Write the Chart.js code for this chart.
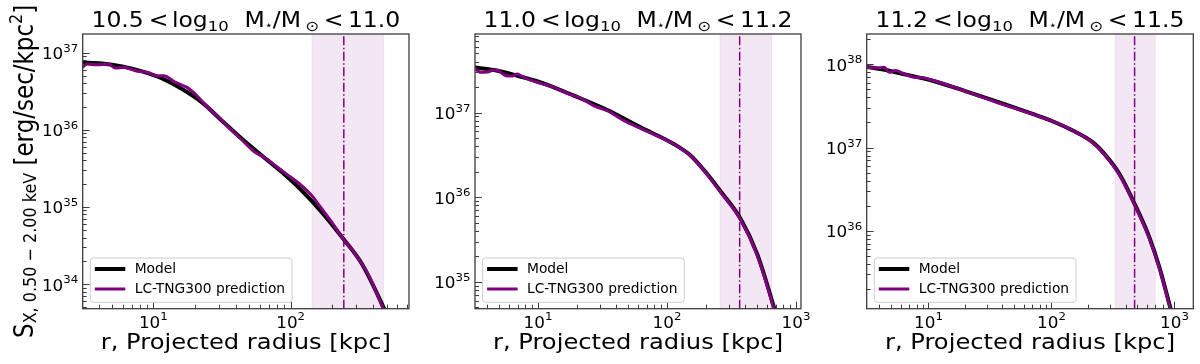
<!DOCTYPE html>
<html>
<head>
<meta charset="utf-8">
<script src="https://cdn.jsdelivr.net/npm/chart.js@4.4.0/dist/chart.umd.min.js"></script>
<style>
html,body{margin:0;padding:0;background:#fff;}
#wrap{position:relative;width:1200px;height:364px;overflow:hidden;}
#wrap canvas{position:absolute;left:0;top:0;}
</style>
</head>
<body>
<div id="wrap">
<canvas id="c0" width="1200" height="364"></canvas>
<canvas id="c1" width="1200" height="364"></canvas>
<canvas id="c2" width="1200" height="364"></canvas>
</div>
<script>
// ---------------- DATA ----------------
const titleLow  = ['10.5', '11.0', '11.2'];
const titleHigh = ['11.0', '11.2', '11.5'];
const legendLabels = ['Model', 'LC-TNG300 prediction'];
const xAxisLabel = 'r, Projected radius [kpc]';

// Panel 1 : 10.5 < log M < 11.0
const rModel1 = [3.03, 4.23, 5.92, 8.27, 11.57, 16.2, 22.6, 31.6, 44.3, 61.9, 86.6, 121, 169, 237, 331, 463, 550];
const sModel1 = [7.46e36, 7.24e36, 6.62e36, 5.70e36, 4.62e36, 3.37e36, 2.26e36, 1.31e36, 7.59e35, 4.61e35, 2.81e35, 1.62e35, 8.51e34, 4.04e34, 1.82e34, 5.52e33, 2.82e33];
const rPred1 = [3.03, 3.29, 3.89, 4.73, 5.29, 6.09, 7.40, 9.25, 10.6, 11.9, 14.5, 17.6, 20.8, 24.6, 29.9, 36.4, 44.3, 53.8, 63.7, 77.4, 96.8, 121, 143, 169, 200, 237, 296, 371, 476, 520];
const sPred1 = [6.43e36, 7.10e36, 6.95e36, 7.10e36, 6.30e36, 6.43e36, 5.82e36, 5.48e36, 4.97e36, 5.01e36, 4.11e36, 3.54e36, 2.76e36, 1.99e36, 1.45e36, 1.02e36, 7.36e35, 5.25e35, 4.39e35, 3.42e35, 2.54e35, 1.88e35, 1.40e35, 9.40e34, 6.31e34, 4.04e34, 2.45e34, 1.29e34, 4.62e33, 3.16e33];
const band1 = [143, 476];
const rCut1 = 244;
const xRange1 = [3.06, 728];
const yRange1 = [4.80e33, 1.74e37];
const xTickExp1 = ['1', '2'];
const yTickExp1 = ['34', '35', '36', '37'];

// Panel 2 : 11.0 < log M < 11.2
const rModel2 = [3.19, 4.56, 6.92, 10.5, 19.0, 34.5, 62.5, 113, 153, 205, 261, 373, 501, 675, 807];
const sModel2 = [3.41e37, 3.18e37, 2.72e37, 2.27e37, 1.58e37, 1.07e37, 6.68e36, 4.25e36, 3.09e36, 1.88e36, 1.17e36, 5.53e35, 2.13e35, 5.01e34, 1.9e34];
const rPred2 = [3.19, 3.59, 4.05, 4.56, 4.99, 5.61, 6.32, 6.92, 7.34, 8.27, 10.5, 13.3, 16.9, 21.4, 27.2, 34.5, 46.4, 62.5, 89.3, 113, 153, 205, 261, 373, 501, 675, 807];
const sPred2 = [3.41e37, 2.98e37, 3.01e37, 3.18e37, 3.12e37, 2.72e37, 2.70e37, 2.85e37, 2.72e37, 2.49e37, 2.21e37, 1.98e37, 1.68e37, 1.48e37, 1.20e37, 1.05e37, 8.01e36, 6.50e36, 5.09e36, 4.25e36, 3.07e36, 1.85e36, 1.14e36, 5.40e35, 2.06e35, 4.8e34, 1.8e34];
const band2 = [258, 649];
const rCut2 = 366;
const xRange2 = [3.25, 1094];
const yRange2 = [4.83e34, 8.45e37];
const xTickExp2 = ['1', '2', '3'];
const yTickExp2 = ['35', '36', '37'];

// Panel 3 : 11.2 < log M < 11.5
const rModel3 = [3.10, 4.51, 6.56, 10.8, 20.2, 37.7, 70.3, 102, 149, 216, 277, 356, 481, 624, 753, 908, 1028];
const sModel3 = [9.37e37, 8.55e37, 7.52e37, 6.35e37, 4.73e37, 3.49e37, 2.53e37, 2.07e37, 1.60e37, 1.16e37, 8.00e36, 4.84e36, 2.01e36, 8.37e35, 3.66e35, 1.32e35, 6.6e34];
const rPred3 = [3.10, 3.30, 3.74, 4.37, 4.81, 5.44, 6.17, 7.67, 8.69, 10.8, 13.0, 20.2, 37.7, 70.3, 102, 149, 216, 277, 356, 481, 624, 753, 908, 1028];
const sPred3 = [9.63e37, 9.20e37, 9.03e37, 9.20e37, 8.01e37, 8.39e37, 7.80e37, 6.98e37, 6.92e37, 6.43e37, 5.92e37, 4.73e37, 3.40e37, 2.53e37, 2.07e37, 1.60e37, 1.15e37, 7.85e36, 4.72e36, 1.96e36, 8.15e35, 3.57e35, 1.28e35, 6.3e34];
const band3 = [330, 698];
const rCut3 = 474;
const xRange3 = [3.15, 1422];
const yRange3 = [1.16e35, 2.31e38];
const xTickExp3 = ['1', '2', '3'];
const yTickExp3 = ['36', '37', '38'];

// ---------------- LAYOUT / STYLE ----------------
const FONT = '"DejaVu Sans", "Liberation Sans", sans-serif';
const PURPLE = '#800080';
const AXIS_COLOR = '#3c3c3c';
const areas = [
  {left: 82.7, right: 409, top: 34, bottom: 308.7},
  {left: 475, right: 801, top: 34, bottom: 308.7},
  {left: 866.7, right: 1193.3, top: 34, bottom: 308.7}
];

function toPoints(xs, ys) { return xs.map((x, i) => ({x: x, y: ys[i]})); }

function drawRuns(ctx, runs, x, y, align, sx, sy, rot) {
  ctx.save();
  ctx.translate(x, y);
  if (rot) ctx.rotate(rot);
  ctx.scale(sx || 1, sy || 1);
  const widths = runs.map(r => {
    if (!Array.isArray(r)) return r.gap;
    ctx.font = r[1] + 'px ' + FONT;
    return ctx.measureText(r[0]).width;
  });
  const total = widths.reduce((a, b) => a + b, 0);
  let cx = align === 'center' ? -total / 2 : (align === 'right' ? -total : 0);
  ctx.textAlign = 'left';
  ctx.textBaseline = 'alphabetic';
  ctx.fillStyle = '#000';
  runs.forEach((r, i) => {
    if (Array.isArray(r)) {
      ctx.font = r[1] + 'px ' + FONT;
      ctx.fillText(r[0], cx, r[2] || 0);
    }
    cx += widths[i];
  });
  ctx.restore();
}

const mplAxes = {
  id: 'mplAxes',
  beforeDatasetsDraw(chart, args, opts) {
    const {ctx, chartArea: a, scales: {x}} = chart;
    const x0 = x.getPixelForValue(opts.band[0]);
    const x1 = x.getPixelForValue(opts.band[1]);
    ctx.save();
    ctx.fillStyle = 'rgba(128,0,128,0.095)';
    ctx.fillRect(x0, a.top, x1 - x0, a.bottom - a.top);
    ctx.strokeStyle = 'rgba(128,0,128,0.07)';
    ctx.lineWidth = 1;
    ctx.beginPath();
    ctx.moveTo(x0, a.top); ctx.lineTo(x0, a.bottom);
    ctx.moveTo(x1, a.top); ctx.lineTo(x1, a.bottom);
    ctx.stroke();
    ctx.restore();
  },
  afterDraw(chart, args, opts) {
    const {ctx, chartArea: a, scales: {x, y}} = chart;
    ctx.save();
    // ticks (inward)
    ctx.strokeStyle = AXIS_COLOR;
    ctx.lineWidth = 1;
    ctx.beginPath();
    const decadeTicks = (scale, cb) => {
      const k0 = Math.floor(Math.log10(scale.min)), k1 = Math.ceil(Math.log10(scale.max));
      for (let k = k0; k <= k1; k++) {
        for (let m = 1; m <= 9; m++) {
          const v = m * Math.pow(10, k);
          if (v < scale.min || v > scale.max) continue;
          cb(scale.getPixelForValue(v), m === 1);
        }
      }
    };
    decadeTicks(x, (px, major) => {
      const p = Math.round(px) + 0.5;
      ctx.moveTo(p, a.bottom); ctx.lineTo(p, a.bottom - (major ? 7 : 4));
    });
    decadeTicks(y, (py, major) => {
      const p = Math.round(py) + 0.5;
      ctx.moveTo(a.left, p); ctx.lineTo(a.left + (major ? 7 : 4), p);
    });
    ctx.stroke();
    // spines
    ctx.lineWidth = 1.3;
    ctx.strokeRect(a.left, a.top, a.right - a.left, a.bottom - a.top);
    ctx.restore();

    // tick labels
    opts.xTicks.forEach(e => {
      const px = x.getPixelForValue(Math.pow(10, +e));
      drawRuns(ctx, [['10', 16, 0], ['' + e, 11.2, -7.5]], px, a.bottom + 19, 'center', 1.05, 1);
    });
    opts.yTicks.forEach(e => {
      const py = y.getPixelForValue(Math.pow(10, +e));
      drawRuns(ctx, [['10', 16, 0], ['' + e, 11.2, -7.5]], a.left - 4.5, py + 6.5, 'right', 1.05, 1);
    });

    // title
    const cxm = (a.left + a.right) / 2;
    drawRuns(ctx, [
      [opts.tLow, 21, 0], {gap: 4.5}, ['<', 21, 0], {gap: 3}, ['log', 21, 0], ['10', 14.7, 4.5], {gap: 14},
      ['M', 21, 0], ['⋆', 11.5, 2.5], ['/M', 21, 0], {gap: 4}, ['⊙', 14.7, 4.5], {gap: 4},
      ['<', 21, 0], {gap: 4}, [opts.tHigh, 21, 0]
    ], cxm, 26.8, 'center', 1.12, 1);

    // x label
    drawRuns(ctx, [[xAxisLabel, 22, 0]], cxm, 349, 'center', 1.1, 1);

    // y label
    if (opts.yLabel) {
      drawRuns(ctx, [
        ['S', 23, 0], ['X, 0.50 − 2.00 keV', 16, 3], [' [erg/sec/kpc', 23, 0], ['2', 16, -9.5], [']', 23, 0]
      ], 33, (a.top + a.bottom) / 2, 'center', 1, 1.12, -Math.PI / 2);
    }

    // legend
    const ds = chart.data.datasets;
    const entries = [ds[1], ds[0]];
    const bx = a.left + 7.6, by = a.bottom - 50.7, bw = 201.7, bh = 44.3;
    ctx.save();
    ctx.fillStyle = 'rgba(255,255,255,0.8)';
    ctx.strokeStyle = 'rgba(204,204,204,1)';
    ctx.lineWidth = 1;
    ctx.beginPath();
    if (ctx.roundRect) ctx.roundRect(bx, by, bw, bh, 3); else ctx.rect(bx, by, bw, bh);
    ctx.fill();
    ctx.stroke();
    entries.forEach((d, i) => {
      const ly = by + 11 + i * 20;
      ctx.strokeStyle = d.borderColor;
      ctx.lineWidth = d.borderWidth;
      ctx.beginPath();
      ctx.moveTo(bx + 4.5, ly); ctx.lineTo(bx + 35, ly);
      ctx.stroke();
      ctx.fillStyle = '#000';
      ctx.font = '13.8px ' + FONT;
      ctx.textBaseline = 'middle';
      ctx.textAlign = 'left';
      ctx.fillText(d.label, bx + 44.4, ly + 0.5);
    });
    ctx.restore();
  }
};

const panels = [
  {rm: rModel1, sm: sModel1, rp: rPred1, sp: sPred1, band: band1, cut: rCut1, xr: xRange1, yr: yRange1, xt: xTickExp1, yt: yTickExp1},
  {rm: rModel2, sm: sModel2, rp: rPred2, sp: sPred2, band: band2, cut: rCut2, xr: xRange2, yr: yRange2, xt: xTickExp2, yt: yTickExp2},
  {rm: rModel3, sm: sModel3, rp: rPred3, sp: sPred3, band: band3, cut: rCut3, xr: xRange3, yr: yRange3, xt: xTickExp3, yt: yTickExp3}
];

panels.forEach((p, i) => {
  const ar = areas[i];
  new Chart(document.getElementById('c' + i), {
    type: 'line',
    data: {
      datasets: [
        {label: legendLabels[1], data: toPoints(p.rp, p.sp), borderColor: PURPLE, borderWidth: 3,
         pointRadius: 0, fill: false, order: 0, clip: 0, cubicInterpolationMode: 'monotone'},
        {label: legendLabels[0], data: toPoints(p.rm, p.sm), borderColor: '#000', borderWidth: 4,
         pointRadius: 0, fill: false, order: 1, clip: 0, cubicInterpolationMode: 'monotone'},
        {label: 'cut', data: [{x: p.cut, y: p.yr[0]}, {x: p.cut, y: p.yr[1]}], borderColor: PURPLE, borderWidth: 1.5,
         borderDash: [9, 2.5, 1.5, 2.5], pointRadius: 0, fill: false, order: 2, clip: 0}
      ]
    },
    options: {
      responsive: false, animation: false, devicePixelRatio: 1, events: [],
      layout: {padding: {left: ar.left, right: 1200 - ar.right, top: ar.top, bottom: 364 - ar.bottom}},
      scales: {
        x: {type: 'logarithmic', min: p.xr[0], max: p.xr[1], display: false},
        y: {type: 'logarithmic', min: p.yr[0], max: p.yr[1], display: false}
      },
      plugins: {
        legend: {display: false}, tooltip: {enabled: false},
        mplAxes: {band: p.band, xTicks: p.xt, yTicks: p.yt, tLow: titleLow[i], tHigh: titleHigh[i], yLabel: i === 0}
      }
    },
    plugins: [mplAxes]
  });
});
</script>
</body>
</html>
